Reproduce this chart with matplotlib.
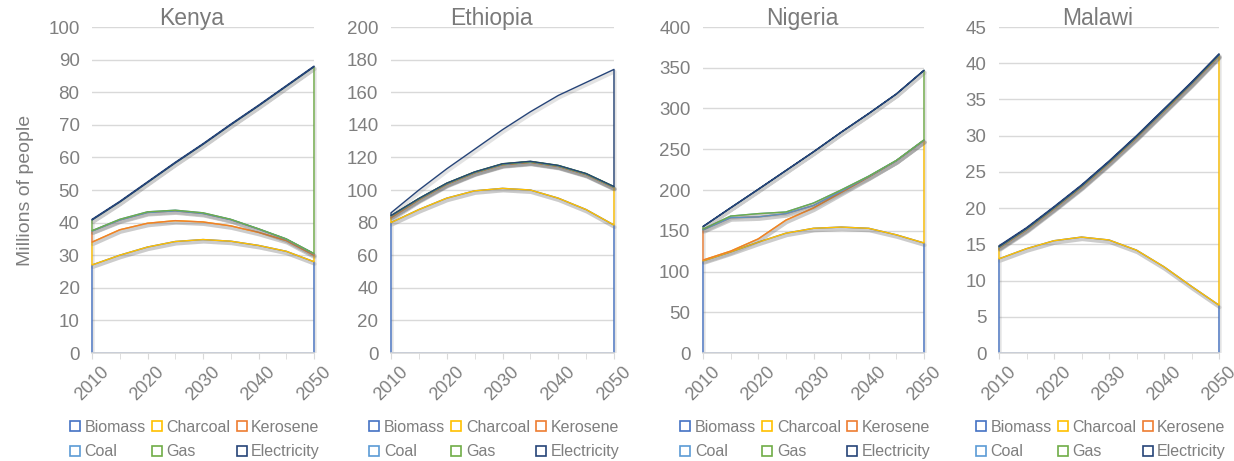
import matplotlib
matplotlib.use("Agg")
import matplotlib.pyplot as plt
import matplotlib.patheffects as pe
from matplotlib.lines import Line2D
from matplotlib.patches import Rectangle
import numpy as np

plt.rcParams['font.family'] = ['Liberation Sans', 'DejaVu Sans']

years = [2010, 2015, 2020, 2025, 2030, 2035, 2040, 2045, 2050]
fuels = ["Biomass", "Charcoal", "Kerosene", "Coal", "Gas", "Electricity"]
fuel_colors = ["#4472C4", "#FFC000", "#ED7D31", "#5B9BD5", "#70AD47", "#264478"]
countries = ["Kenya", "Ethiopia", "Nigeria", "Malawi"]

# millions of people cooking with each fuel
kenya = [
    [27, 30, 32.5, 34.2, 34.8, 34.3, 33, 31.2, 28],
    [7, 7.8, 7.3, 6.4, 5.4, 4.7, 4, 3.3, 2],
    [3.4, 3, 3.3, 3, 2.6, 1.9, 1, 0.4, 0.4],
    [0.1, 0.2, 0.2, 0.2, 0.2, 0.1, 0.1, 0.1, 0.1],
    [3.3, 5.3, 9, 14.5, 21, 29, 37.7, 46.8, 57.3],
    [0.2, 0.2, 0.2, 0.2, 0.2, 0.2, 0.2, 0.2, 0.2],
]
ethiopia = [
    [80, 88, 95, 99.5, 101, 100, 95, 88, 78.5],
    [3, 6, 8.5, 11, 14.5, 17, 19.5, 21.5, 23],
    [1, 0.5, 0.4, 0.3, 0.3, 0.3, 0.3, 0.3, 0.3],
    [0.1, 0.1, 0.1, 0.1, 0.1, 0.1, 0.1, 0.1, 0.1],
    [0.2, 0.2, 0.2, 0.2, 0.2, 0.2, 0.2, 0.2, 0.2],
    [1.7, 5.2, 8.8, 13.9, 20.9, 30.4, 42.9, 55.9, 71.9],
]
nigeria = [
    [113, 124, 136, 147, 153, 154.5, 153, 145, 135],
    [1, 1, 4, 16, 25, 42.5, 63, 91, 126],
    [37, 41, 27, 8, 3, 1.5, 0.5, 0, 0],
    [1, 2, 4, 2, 3, 1.5, 0.5, 0.3, 0.5],
    [3, 10, 29.7, 50.7, 62.7, 70.7, 76.7, 81.4, 85.2],
    [0.3, 0.3, 0.3, 0.3, 0.3, 0.3, 0.3, 0.3, 0.3],
]
malawi = [
    [13, 14.4, 15.5, 16, 15.6, 14.2, 11.9, 9.2, 6.6],
    [1.5, 2.6, 4.4, 6.9, 10.6, 15.5, 21.5, 27.9, 34.4],
    [0.1, 0.1, 0.1, 0.1, 0.1, 0.1, 0.1, 0.1, 0.1],
    [0.05, 0.05, 0.05, 0.05, 0.05, 0.05, 0.05, 0.05, 0.05],
    [0.05, 0.05, 0.05, 0.05, 0.05, 0.05, 0.05, 0.05, 0.05],
    [0.1, 0.1, 0.1, 0.1, 0.1, 0.1, 0.1, 0.1, 0.1],
]
all_data = [kenya, ethiopia, nigeria, malawi]
y_max = [100, 200, 400, 45]
y_step = [10, 20, 50, 5]

text_gray = "#7F7F7F"
grid_gray = "#D9D9D9"

# plot area of each panel in pixels (left, right), shared top/bottom
W, H = 1234, 461
boxes = [(92, 314), (391, 614), (703, 924), (999, 1219)]
top_px, bottom_px = 27, 353

fig = plt.figure(figsize=(W / 100, H / 100), dpi=100)

# soft drop shadow under the outlines
shadow = [pe.SimpleLineShadow(offset=(0.6, -1.6), shadow_color="#666666",
                              alpha=0.18, linewidth=2.6),
          pe.Normal()]

for i, (name, data) in enumerate(zip(countries, all_data)):
    x0, x1 = boxes[i]
    ax = fig.add_axes([x0 / W, 1 - bottom_px / H, (x1 - x0) / W,
                       (bottom_px - top_px) / H])

    # clip a bit wider than the axes so the edge outlines show in full,
    # but cut at the baseline
    clip = Rectangle((-0.02, 0), 1.04, 1.2, transform=ax.transAxes,
                     facecolor="none", edgecolor="none")

    # stacked areas drawn as outlines only, bottom series first
    base = np.zeros(len(years))
    for vals, c in zip(data, fuel_colors):
        top = base + np.array(vals)
        poly = ax.fill_between(years, base, top, facecolor="none",
                               edgecolor=c, linewidth=1.0, zorder=3)
        poly.set_clip_path(clip)
        poly.set_path_effects(shadow)
        base = top

    ax.set_xlim(2010, 2050)
    ax.set_ylim(0, y_max[i])
    ax.set_yticks(np.arange(0, y_max[i] + 0.1, y_step[i]))
    ax.set_xticks([2010, 2020, 2030, 2040, 2050])
    ax.set_xticks(years, minor=True)
    ax.grid(axis="y", color=grid_gray, linewidth=1.0, zorder=0)
    ax.set_axisbelow(True)
    for s in ["top", "right", "left"]:
        ax.spines[s].set_visible(False)
    ax.spines["bottom"].set_color(grid_gray)
    ax.spines["bottom"].set_linewidth(1.2)
    ax.spines["bottom"].set_zorder(5)
    ax.tick_params(axis="y", length=0, labelsize=13.5, labelcolor=text_gray, pad=9)
    ax.tick_params(axis="x", which="both", length=4, color=grid_gray,
                   labelsize=13, labelcolor=text_gray)
    for lab in ax.get_xticklabels():
        lab.set_rotation(45)
        lab.set_ha("center")

    # panel title sits just on the top gridline
    ax.text(0.45, 1.006, name, transform=ax.transAxes, ha="center",
            va="baseline", fontsize=16.5, color="#7A7A7A")

    if i == 0:
        ax.set_ylabel("Millions of people", fontsize=14, color=text_gray, labelpad=10)

    handles = [Line2D([], [], linestyle="none", marker="s", markersize=7,
                      markerfacecolor="white", markeredgecolor=c,
                      markeredgewidth=1.2, label=f)
               for f, c in zip(fuels, fuel_colors)]
    order = [0, 3, 1, 4, 2, 5]
    leg = ax.legend([handles[k] for k in order], [fuels[k] for k in order],
                    ncol=3, loc="upper center", bbox_to_anchor=(0.46, -0.175),
                    frameon=False, fontsize=11.5, handlelength=0.8,
                    handletextpad=0.2, columnspacing=0.3, labelspacing=0.6,
                    borderpad=0.1)
    for t in leg.get_texts():
        t.set_color(text_gray)

fig.savefig("out.png", dpi=100)
